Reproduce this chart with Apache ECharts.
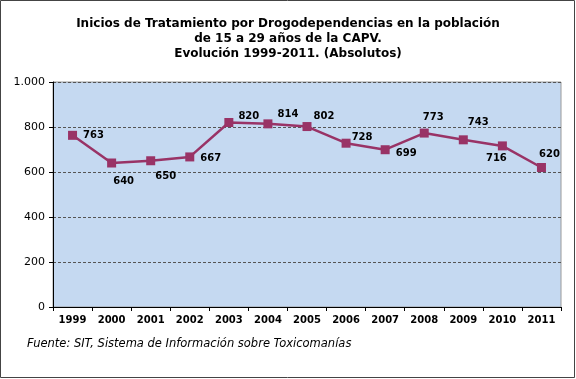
<!DOCTYPE html>
<html>
<head>
<meta charset="utf-8">
<script src="https://cdn.jsdelivr.net/npm/echarts@6/dist/echarts.min.js"></script>
<style>
html,body{margin:0;padding:0;background:#fff;}
#chart{width:576px;height:379px;}
</style>
</head>
<body>
<div id="chart"></div>
<script>
const years = ['1999','2000','2001','2002','2003','2004','2005','2006','2007','2008','2009','2010','2011'];
const values = [763, 640, 650, 667, 820, 814, 802, 728, 699, 773, 743, 716, 620];
const labelOffsets = [[21,0],[12,18],[15,16],[21,1],[20,-6],[20,-9],[17,-10],[16,-6],[21,4],[9,-16],[15,-17],[-6,13],[8,-13]];
const titleText = 'Inicios de Tratamiento por Drogodependencias en la población\nde 15 a 29 años de la CAPV.\nEvolución 1999-2011. (Absolutos)';
const sourceText = 'Fuente: SIT, Sistema de Información sobre Toxicomanías';

const chart = echarts.init(document.getElementById('chart'));
const font = 'Verdana, "DejaVu Sans", sans-serif';
chart.setOption({
  animation: false,
  backgroundColor: '#ffffff',
  title: {
    text: titleText,
    left: 'center',
    top: 11,
    textStyle: {fontFamily: font, fontSize: 12, fontWeight: 'bold', color: '#000', lineHeight: 15}
  },
  graphic: [
    {type: 'rect', shape: {x: 0.5, y: 0.5, width: 574, height: 377}, style: {fill: 'none', stroke: '#444', lineWidth: 1}, silent: true, z: 100},
    {type: 'text', left: 27, top: 338, style: {text: sourceText, font: 'italic 11.5px ' + font, fill: '#000'}}
  ],
  grid: {left: 53, right: 15, top: 82, bottom: 72, show: true, backgroundColor: '#c5d9f1', borderColor: '#9a9a9a', borderWidth: 1},
  xAxis: {
    type: 'category',
    data: years,
    boundaryGap: true,
    axisLine: {lineStyle: {color: '#000', width: 1}},
    axisTick: {show: true, length: 4, lineStyle: {color: '#000'}},
    axisLabel: {fontFamily: font, fontSize: 10, fontWeight: 'bold', color: '#000', margin: 8}
  },
  yAxis: {
    type: 'value',
    min: 0, max: 1000, interval: 200,
    axisLine: {show: true, lineStyle: {color: '#000', width: 1}},
    axisTick: {show: true, length: 4, lineStyle: {color: '#000'}},
    splitLine: {show: true, lineStyle: {color: '#555', type: [3, 2], width: 1}},
    axisLabel: {
      fontFamily: font, fontSize: 11, color: '#000', margin: 8,
      formatter: v => v >= 1000 ? String(v).replace(/(\d)(?=(\d{3})+$)/g, '$1.') : String(v)
    }
  },
  series: [{
    type: 'line',
    data: values.map((v, i) => ({
      value: v,
      label: {offset: labelOffsets[i]}
    })),
    symbol: 'rect',
    symbolSize: 9,
    lineStyle: {color: '#993366', width: 2.5},
    itemStyle: {color: '#993366'},
    label: {
      show: true,
      position: 'inside',
      fontFamily: font, fontSize: 10, fontWeight: 'bold', color: '#000'
    }
  }]
});
</script>
</body>
</html>
